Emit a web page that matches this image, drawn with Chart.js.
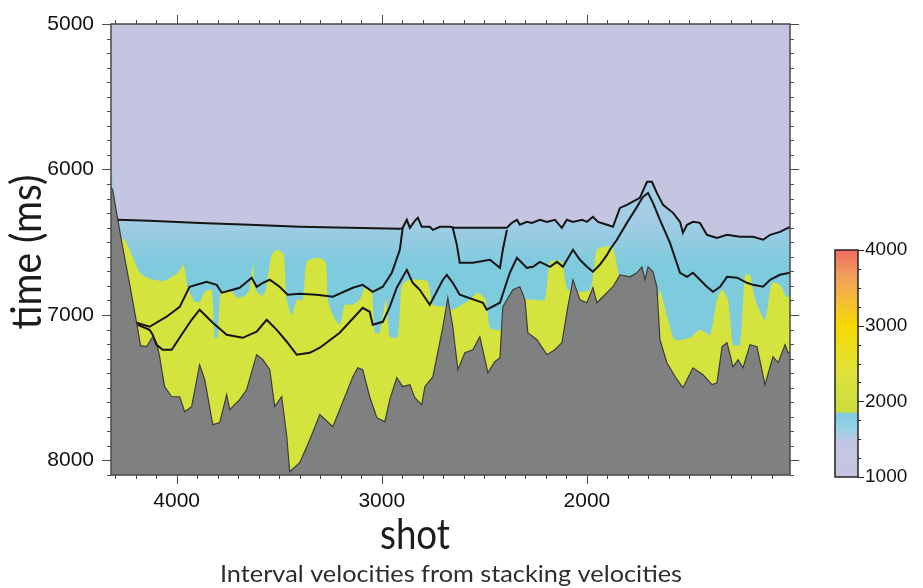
<!DOCTYPE html>
<html>
<head>
<meta charset="utf-8">
<script src="https://cdn.jsdelivr.net/npm/chart.js@4.4.0/dist/chart.umd.min.js"></script>
<style>
  html, body { margin: 0; padding: 0; background: #fff; }
  #wrap { position: relative; width: 923px; height: 588px; overflow: hidden; }
  #main { position: absolute; left: 0; top: 0; }
  #bar { position: absolute; left: 800px; top: 0; }
</style>
</head>
<body>
<div id="wrap">
  <canvas id="main" width="923" height="588"></canvas>
  <canvas id="bar" width="123" height="588"></canvas>
</div>
<script>
// axis labels
const xTicks = [4000, 3000, 2000];
const yTicks = [5000, 6000, 7000, 8000];
const barTicks = [1000, 2000, 3000, 4000];

// [shot, time ms] pairs
const topHorizon = [[4288,6346],[4132,6353],[3888,6367],[3644,6380],[3400,6394],[3156,6401],[2912,6408],[2898,6401],[2878,6346],[2863,6401],[2839,6353],[2824,6332],[2805,6394],[2766,6394],[2751,6415],[2717,6394],[2668,6394],[2644,6401],[2424,6401],[2390,6401],[2366,6367],[2341,6346],[2327,6380],[2293,6360],[2268,6367],[2229,6346],[2195,6360],[2156,6346],[2122,6401],[2098,6346],[2068,6360],[2024,6346],[2000,6360],[1971,6325],[1946,6360],[1902,6380],[1873,6394],[1839,6264],[1805,6243],[1742,6195],[1707,6085],[1683,6085],[1659,6161],[1629,6243],[1580,6298],[1546,6360],[1532,6435],[1512,6380],[1483,6360],[1449,6367],[1415,6449],[1366,6470],[1317,6449],[1254,6463],[1190,6463],[1141,6483],[1107,6449],[1059,6429],[1010,6394]];

const midHorizon = [[4195,7054],[4132,7081],[4049,7012],[3985,6944],[3937,6806],[3854,6772],[3805,6793],[3780,6847],[3727,6827],[3693,6813],[3634,6744],[3610,6806],[3580,6779],[3546,6758],[3498,6806],[3459,6861],[3400,6854],[3317,6861],[3239,6875],[3141,6813],[3093,6793],[3044,6841],[2995,6806],[2951,6710],[2912,6552],[2898,6401],[2780,null],[2654,6401],[2634,6518],[2620,6641],[2556,6641],[2473,6621],[2424,6676],[2410,6552],[2390,6415]];

const lowHorizon = [[4190,7067],[4132,7102],[4117,7136],[4098,7205],[4068,7239],[4024,7239],[3976,7136],[3927,7033],[3888,6964],[3824,7054],[3756,7136],[3678,7157],[3610,7115],[3561,7033],[3512,7102],[3463,7184],[3415,7273],[3351,7260],[3302,7225],[3205,7122],[3093,6951],[3059,6978],[3044,7067],[2995,7047],[2961,6944],[2927,6813],[2878,6690],[2849,6779],[2815,6827],[2766,6930],[2702,6758],[2683,6724],[2654,6779],[2620,6861],[2507,6916],[2488,6964],[2424,6916],[2376,6710],[2341,6607],[2293,6676],[2263,6669],[2229,6635],[2180,6669],[2146,6635],[2117,6669],[2068,6552],[2034,6621],[2000,6669],[1971,6703],[1937,6655],[1902,6587],[1888,6552],[1854,6483],[1805,6367],[1756,6257],[1727,6188],[1702,6161],[1678,6229],[1644,6346],[1595,6504],[1546,6710],[1512,6738],[1483,6710],[1449,6758],[1415,6806],[1385,6841],[1351,6806],[1317,6738],[1268,6744],[1220,6779],[1190,6793],[1141,6806],[1107,6758],[1059,6724],[1010,6710]];

// low-velocity (cyan) zone starts at the top horizon, plus the strip on the left edge
const cyanEdge = [[4320,5934],[4303,6106],[4290,6330]];

// top of the 2000+ m/s (yellow) zone
const yellowTop = [[4320,6429],[4254,6483],[4215,6600],[4180,6710],[4132,6751],[4059,6765],[3995,6710],[3966,6655],[3946,6813],[3912,6909],[3888,6909],[3863,6841],[3829,6827],[3815,7157],[3800,7157],[3785,6847],[3741,6827],[3702,6882],[3668,6868],[3644,6827],[3629,6655],[3615,6827],[3585,6868],[3566,6827],[3537,6587],[3507,6552],[3478,6587],[3463,6896],[3439,7005],[3415,6896],[3385,6896],[3366,6635],[3312,6607],[3273,6635],[3263,6896],[3239,6999],[3205,7067],[3180,6930],[3146,6930],[3107,6896],[3083,6813],[3049,6827],[3034,7122],[3010,7122],[2980,6896],[2961,7150],[2922,7150],[2902,6793],[2863,6758],[2815,6758],[2776,6772],[2751,6930],[2688,6944],[2654,6964],[2571,6896],[2532,6847],[2493,6896],[2473,7088],[2424,7102],[2376,6896],[2254,6896],[2205,6896],[2180,6635],[2122,6635],[2093,6827],[1985,6827],[1951,6552],[1878,6532],[1849,6690],[1815,6896],[1659,6896],[1644,6827],[1605,7033],[1571,7170],[1498,7157],[1449,7102],[1400,7136],[1366,6896],[1341,6827],[1312,6896],[1288,7205],[1254,7205],[1229,6724],[1205,6724],[1180,6896],[1132,7033],[1098,6779],[1059,6793],[1029,6875],[1010,6875]];

// top of the masked (grey) area below the sea floor
const greyTop = [[4320,6120],[4312,6140],[4268,6497],[4224,6827],[4190,7095],[4176,7211],[4146,7218],[4117,7150],[4098,7191],[4083,7287],[4059,7493],[4024,7562],[3985,7562],[3961,7665],[3927,7630],[3888,7342],[3863,7445],[3824,7754],[3790,7740],[3756,7548],[3741,7651],[3727,7630],[3693,7582],[3659,7514],[3610,7273],[3580,7308],[3546,7376],[3522,7630],[3488,7562],[3463,7837],[3449,8077],[3400,8015],[3351,7857],[3302,7685],[3239,7768],[3205,7651],[3141,7424],[3117,7363],[3093,7376],[3059,7562],[3024,7706],[2985,7734],[2961,7582],[2927,7431],[2898,7493],[2863,7479],[2839,7569],[2805,7617],[2790,7493],[2751,7424],[2702,7081],[2678,6882],[2654,7081],[2629,7376],[2595,7260],[2556,7239],[2522,7150],[2483,7397],[2449,7321],[2424,7294],[2410,6944],[2390,6896],[2361,6827],[2327,6806],[2302,6896],[2288,7122],[2244,7170],[2195,7273],[2156,7239],[2122,7191],[2093,6944],[2068,6758],[2034,6896],[2000,6916],[1971,6813],[1951,6916],[1922,6875],[1873,6806],[1839,6724],[1790,6738],[1756,6710],[1732,6669],[1717,6758],[1702,6669],[1678,6703],[1659,6806],[1644,7170],[1610,7328],[1561,7445],[1532,7500],[1483,7363],[1434,7411],[1390,7479],[1366,7466],[1341,7218],[1317,7191],[1288,7356],[1263,7308],[1239,7363],[1205,7205],[1171,7218],[1132,7479],[1093,7287],[1068,7328],[1034,7205],[1020,7260],[1010,7253]];

// colour scale (m/s)
const barRange = [1000, 4000];
const barStops = [1000, 1450, 1650, 1840, 1860, 2400, 3000, 3400, 3700, 4000];
const barColors = ['#c5c5e2', '#c3c6e2', '#95d2e6', '#7fcbe0', '#c9dd3e', '#dfe33a', '#f6d900', '#f4b640', '#f0995e', '#ee6b5e'];

const X_MIN = 1010, X_MAX = 4320, T_MIN = 5000, T_MAX = 8100;
const AXIS_FONT = '"Liberation Sans", Arial, sans-serif';
const TITLE_FONT = 'Lato, "DejaVu Sans", sans-serif';

const toPts = arr => arr.map(p => ({ x: p[0], y: p[1] }));
const plain = v => String(v);

function line(ctx, x1, y1, x2, y2) {
  ctx.beginPath(); ctx.moveTo(x1, y1); ctx.lineTo(x2, y2); ctx.stroke();
}

// draw centred text squeezed to a given width (the original face is narrower than what is installed)
function fitText(ctx, text, width) {
  const w = ctx.measureText(text).width;
  ctx.save();
  ctx.scale(Math.min(1.1, width / w), 1);
  ctx.fillText(text, 0, 0);
  ctx.restore();
}

const backdrop = {
  id: 'backdrop',
  beforeDatasetsDraw(chart) {
    const { ctx, chartArea: a } = chart;
    ctx.save();
    ctx.fillStyle = '#c3c5e1';
    ctx.fillRect(a.left, a.top, a.right - a.left, a.bottom - a.top);
    ctx.restore();
  }
};

const frame = {
  id: 'frame',
  afterDraw(chart) {
    const { ctx, chartArea: a, scales: { x, y } } = chart;
    ctx.save();
    ctx.strokeStyle = '#4a4a4a';
    ctx.lineWidth = 1;
    for (let v = 1100; v <= 4300; v += 100) {
      const px = Math.round(x.getPixelForValue(v)) + 0.5;
      const len = v % 1000 === 0 ? 9 : 4;
      line(ctx, px, a.bottom, px, a.bottom + len);
      line(ctx, px, a.top, px, a.top - len);
    }
    for (let v = 5000; v <= 8100; v += 100) {
      const py = Math.round(y.getPixelForValue(v)) + 0.5;
      const len = v % 1000 === 0 ? 9 : 4;
      line(ctx, a.left, py, a.left - len, py);
      line(ctx, a.right, py, a.right + len, py);
    }
    ctx.lineWidth = 1.5;
    ctx.strokeRect(a.left, a.top, a.right - a.left, a.bottom - a.top);

    ctx.fillStyle = '#1c1c1c';
    ctx.textAlign = 'center';
    ctx.textBaseline = 'alphabetic';

    ctx.save();
    ctx.translate(415, 549);
    ctx.font = '42px ' + TITLE_FONT;
    fitText(ctx, 'shot', 70);
    ctx.restore();

    ctx.save();
    ctx.translate(451, 582);
    ctx.font = '23px ' + TITLE_FONT;
    ctx.fillStyle = '#2e2e2e';
    fitText(ctx, 'Interval velocities from stacking velocities', 463);
    ctx.restore();

    ctx.translate(41, 252);
    ctx.rotate(-Math.PI / 2);
    ctx.font = '42px ' + TITLE_FONT;
    fitText(ctx, 'time (ms)', 155);
    ctx.restore();
  }
};

const lineStyle = { borderColor: '#151515', borderWidth: 2, pointRadius: 0, tension: 0, fill: false };

new Chart(document.getElementById('main'), {
  type: 'line',
  data: {
    datasets: [
      Object.assign({ label: 'top horizon', data: toPts(topHorizon) }, lineStyle),
      Object.assign({ label: 'middle horizon', data: toPts(midHorizon), spanGaps: false }, lineStyle),
      Object.assign({ label: 'lower horizon', data: toPts(lowHorizon) }, lineStyle),
      { label: 'masked', data: toPts(greyTop), borderColor: '#3c3c3c', borderWidth: 1.2,
        backgroundColor: '#808080', fill: { value: T_MAX }, pointRadius: 0, tension: 0 },
      { label: '2000+', data: toPts(yellowTop), borderWidth: 0, borderColor: 'rgba(0,0,0,0)',
        backgroundColor: '#d5e33f', fill: { value: T_MAX }, pointRadius: 0, tension: 0.2 },
      { label: '1500-2000', data: toPts(cyanEdge.concat(topHorizon)), borderWidth: 0, borderColor: 'rgba(0,0,0,0)',
        fill: { value: T_MAX }, pointRadius: 0, tension: 0,
        backgroundColor: c => {
          const ch = c.chart;
          if (!ch.chartArea) return '#80cbde';
          const y = ch.scales.y;
          const g = ch.ctx.createLinearGradient(0, y.getPixelForValue(6350), 0, y.getPixelForValue(6650));
          g.addColorStop(0, '#a3cce5');
          g.addColorStop(1, '#7fcbde');
          return g;
        } }
    ]
  },
  options: {
    responsive: false,
    devicePixelRatio: 1,
    animation: false,
    layout: { padding: { left: 0, top: 24, right: 133, bottom: 0 } },
    plugins: { legend: { display: false }, tooltip: { enabled: false }, title: { display: false } },
    scales: {
      x: {
        type: 'linear', reverse: true, min: X_MIN, max: X_MAX, position: 'bottom',
        grid: { display: false, drawTicks: true, tickLength: 9 },
        border: { display: false },
        afterBuildTicks: s => { s.ticks = xTicks.map(v => ({ value: v })); },
        afterFit: s => { s.height = 113; },
        ticks: { color: '#111', padding: 5, maxRotation: 0, callback: plain,
                 font: { family: AXIS_FONT, size: 21 } }
      },
      y: {
        type: 'linear', reverse: true, min: T_MIN, max: T_MAX,
        grid: { display: false, drawTicks: true, tickLength: 9 },
        border: { display: false },
        afterBuildTicks: s => { s.ticks = yTicks.map(v => ({ value: v })); },
        afterFit: s => { s.width = 111; },
        ticks: { color: '#111', padding: 8, callback: plain, font: { family: AXIS_FONT, size: 21 } }
      }
    }
  },
  plugins: [backdrop, frame]
});

const barFrame = {
  id: 'barFrame',
  afterDraw(chart) {
    const { ctx, chartArea: a, scales: { y } } = chart;
    ctx.save();
    ctx.strokeStyle = '#222';
    ctx.lineWidth = 1;
    for (let v = barRange[0]; v <= barRange[1]; v += 250) {
      const py = Math.round(y.getPixelForValue(v)) + 0.5;
      line(ctx, a.right, py, a.right + (v % 1000 === 0 ? 6 : 3), py);
    }
    ctx.lineWidth = 1.5;
    ctx.strokeRect(a.left, a.top, a.right - a.left, a.bottom - a.top);
    ctx.restore();
  }
};

new Chart(document.getElementById('bar'), {
  type: 'bar',
  data: {
    labels: [''],
    datasets: [{
      data: [barRange],
      barPercentage: 1, categoryPercentage: 1, borderWidth: 0,
      backgroundColor: c => {
        const ch = c.chart;
        if (!ch.chartArea) return '#ccc';
        const y = ch.scales.y;
        const g = ch.ctx.createLinearGradient(0, y.getPixelForValue(barRange[0]), 0, y.getPixelForValue(barRange[1]));
        barStops.forEach((v, i) => g.addColorStop((v - barRange[0]) / (barRange[1] - barRange[0]), barColors[i]));
        return g;
      }
    }]
  },
  options: {
    responsive: false,
    devicePixelRatio: 1,
    animation: false,
    layout: { padding: { left: 35, top: 250, right: 0, bottom: 111 } },
    plugins: { legend: { display: false }, tooltip: { enabled: false } },
    scales: {
      x: { display: false },
      y: {
        position: 'right', min: barRange[0], max: barRange[1],
        grid: { display: false, drawTicks: true, tickLength: 6 },
        border: { display: false },
        afterBuildTicks: s => { s.ticks = barTicks.map(v => ({ value: v })); },
        afterFit: s => { s.width = 65; },
        ticks: { color: '#111', padding: 1, callback: plain, font: { family: AXIS_FONT, size: 19 } }
      }
    }
  },
  plugins: [barFrame]
});
</script>
</body>
</html>
